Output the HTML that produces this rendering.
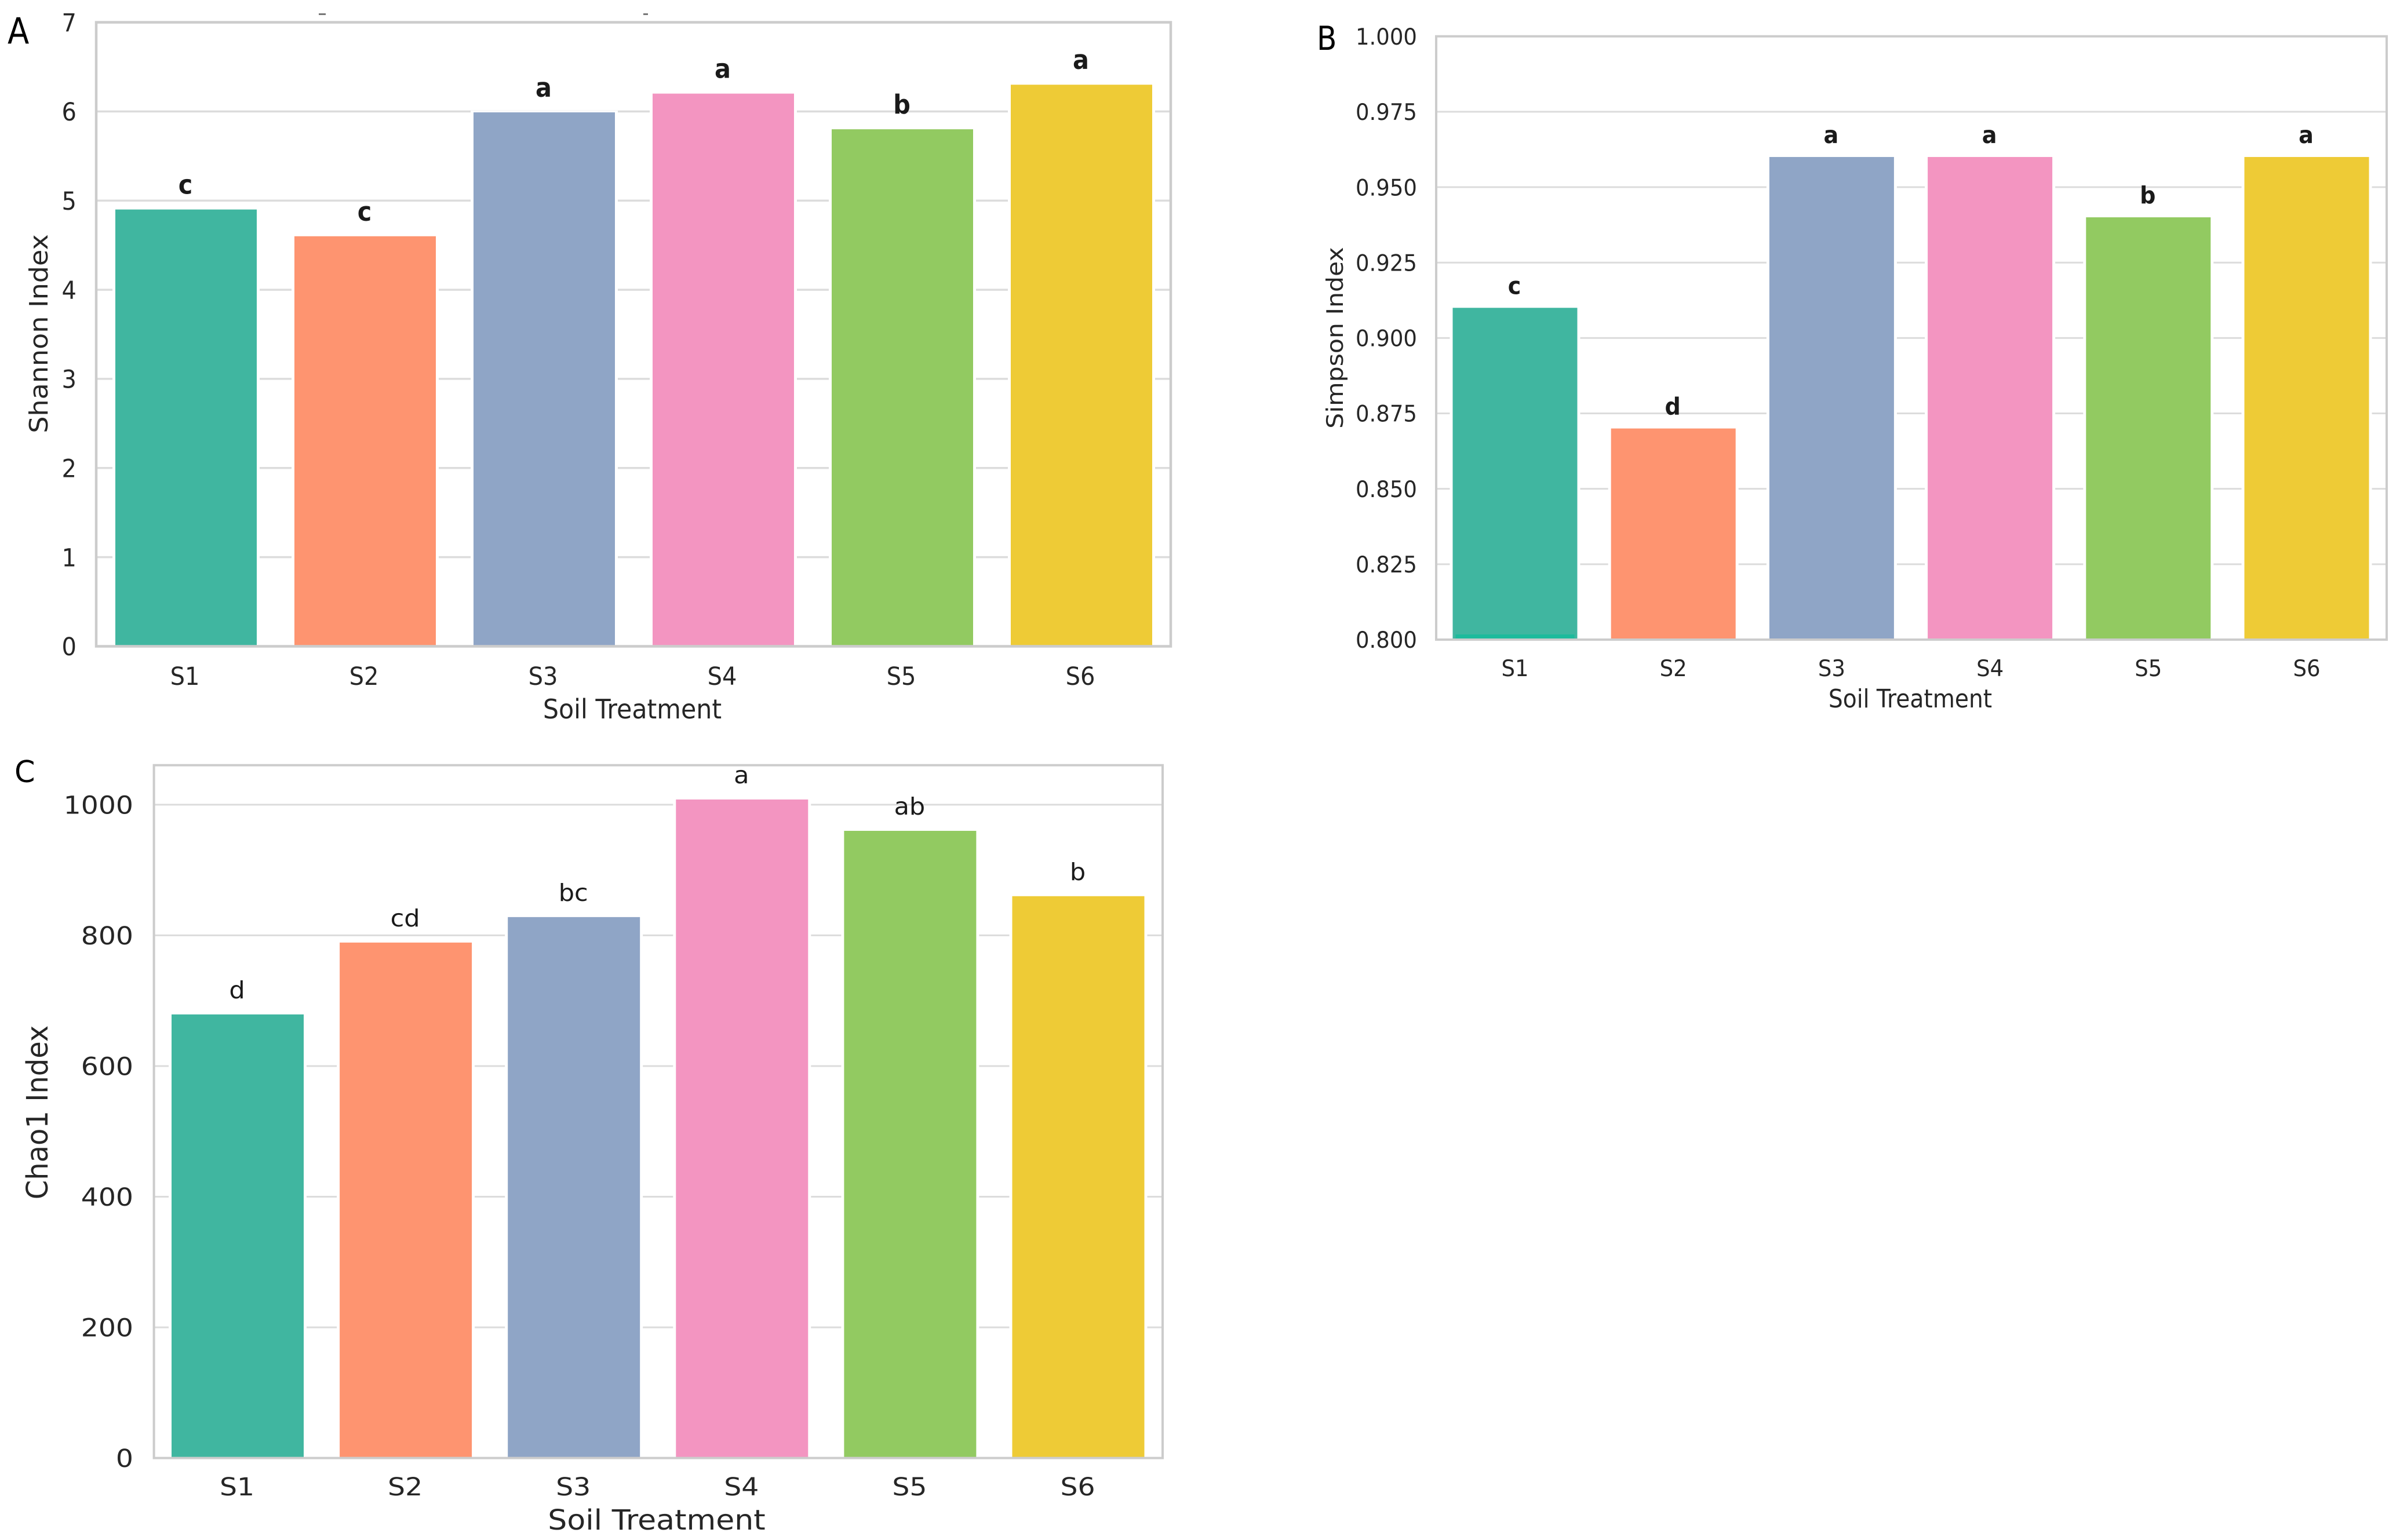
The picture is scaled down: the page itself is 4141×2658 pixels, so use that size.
<!DOCTYPE html>
<html lang="en">
<head>
<meta charset="utf-8">
<title>Soil treatment diversity indices</title>
<style>
html,body{margin:0;padding:0;background:#fff;}
svg{display:block;}
text{font-family:"DejaVu Sans","Liberation Sans",sans-serif;}
</style>
</head>
<body>
<svg id="figure" xmlns="http://www.w3.org/2000/svg" width="4141" height="2658" viewBox="0 0 4141 2658">
<rect x="0" y="0" width="4141" height="2658" fill="#ffffff"/>
<rect x="550" y="23" width="12" height="3" fill="#777777"/>
<rect x="1110" y="23" width="8" height="3" fill="#777777"/>
</svg>
<script>
const categories = ['S1', 'S2', 'S3', 'S4', 'S5', 'S6'];
const barColors = ['#40b6a0', '#fe9470', '#8fa5c6', '#f395c1', '#92ca61', '#eecb36'];

const shannonValues = [4.9, 4.6, 5.99, 6.2, 5.8, 6.3];
const shannonLetters = ['c', 'c', 'a', 'a', 'b', 'a'];
const shannonTicks = ['0', '1', '2', '3', '4', '5', '6', '7'];

const simpsonValues = [0.91, 0.87, 0.96, 0.96, 0.94, 0.96];
const simpsonLetters = ['c', 'd', 'a', 'a', 'b', 'a'];
const simpsonTicks = ['0.800', '0.825', '0.850', '0.875', '0.900', '0.925', '0.950', '0.975', '1.000'];

const chaoValues = [679, 789, 828, 1008, 960, 860];
const chaoLetters = ['d', 'cd', 'bc', 'a', 'ab', 'b'];
const chaoTicks = ['0', '200', '400', '600', '800', '1000'];

const svgNS = 'http://www.w3.org/2000/svg';
const root = document.getElementById('figure');

function mk(tag, attrs) {
  const el = document.createElementNS(svgNS, tag);
  for (const k in attrs) el.setAttribute(k, attrs[k]);
  return el;
}

function scaledText(parent, str, x, y, size, sx, anchor, weight, fill) {
  const t = mk('text', {
    transform: 'translate(' + x + ',' + y + ') scale(' + sx + ',1)',
    'font-size': size,
    'text-anchor': anchor,
    'font-weight': weight,
    fill: fill
  });
  t.textContent = str;
  parent.appendChild(t);
  return t;
}

function buildPanel(cfg) {
  const g = mk('g', {});
  
  
  root.appendChild(g);

  const yScale = v => cfg.bottom - (v - cfg.yMin) / (cfg.yMax - cfg.yMin) * (cfg.bottom - cfg.top);
  const xScale = i => cfg.firstCenter + i * cfg.step;

  cfg.ticks.forEach(label => {
    const v = parseFloat(label);
    const y = yScale(v);
    const grid = mk('line', { x1: cfg.left, x2: cfg.right, y1: y, y2: y, stroke: '#dcdcdc', 'stroke-width': cfg.gridWidth });
    
    
    g.appendChild(grid);

    const tl = scaledText(g, label, cfg.yTickRight, y + cfg.tickSize * 0.365, cfg.tickSize, cfg.tickSx, 'end', 'normal', '#262626');
    
    
  });

  categories.forEach((cat, i) => {
    const cx = xScale(i);
    const top = yScale(cfg.values[i]);
    const base = yScale(cfg.yMin);

    const halo = mk('rect', { x: cx - cfg.barWidth / 2 - 5, y: top - 3, width: cfg.barWidth + 10, height: base - top + 3, fill: '#ffffff' });
    
    
    g.appendChild(halo);

    const bar = mk('rect', { x: cx - cfg.barWidth / 2, y: top, width: cfg.barWidth, height: base - top - 2, fill: barColors[i] });
    
    
    g.appendChild(bar);

    const letter = scaledText(g, cfg.letters[i], cx - 1, top - cfg.letterGap, cfg.letterSize, cfg.letterSx, 'middle', cfg.letterWeight, '#1a1a1a');
    
    

    const xt = scaledText(g, cat, cx + cfg.xTickOffset, cfg.xTickBaseline, cfg.tickSize, cfg.tickSx, 'middle', 'normal', '#262626');
    
    
  });

  if (cfg.baseStrip) {
    const sx = xScale(0);
    const strip = mk('rect', { x: sx - cfg.barWidth / 2 + 5, y: yScale(cfg.yMin) - 9, width: cfg.barWidth - 10, height: 7, fill: '#1dbb9c' });
    
    
    g.appendChild(strip);
  }

  const frame = mk('rect', { x: cfg.left, y: cfg.top, width: cfg.right - cfg.left, height: cfg.bottom - cfg.top, fill: 'none', stroke: '#cccccc', 'stroke-width': cfg.spineWidth });
  
  
  g.appendChild(frame);

  const xl = scaledText(g, 'Soil Treatment', cfg.xLabelX, cfg.xLabelY, cfg.xLabelSize, cfg.xLabelSx, 'middle', 'normal', '#262626');
  
  

  const yl = mk('text', {
    transform: 'translate(' + cfg.yLabelX + ',' + cfg.yLabelY + ') rotate(-90) scale(1,' + cfg.yLabelSy + ')',
    'font-size': cfg.yLabelSize,
    'text-anchor': 'middle',
    fill: '#262626'
  });
  yl.textContent = cfg.yTitle;
  
  
  g.appendChild(yl);

  const tag = scaledText(g, cfg.tag, cfg.tagX, cfg.tagY, cfg.tagSize, cfg.tagSx, 'start', 'normal', '#000000');
  
  
}

buildPanel({
  key: 'shannon', tag: 'A', tagX: 13, tagY: 75, tagSize: 62, tagSx: 0.88,
  yTitle: 'Shannon Index', values: shannonValues, letters: shannonLetters, ticks: shannonTicks,
  yMin: 0, yMax: 7, left: 166, right: 2020, top: 38.5, bottom: 1115.5,
  firstCenter: 321, step: 309, barWidth: 244, gridWidth: 3.5, spineWidth: 4.5,
  tickSize: 43, tickSx: 0.93, yTickRight: 132, xTickOffset: -2, xTickBaseline: 1182,
  letterSize: 45, letterSx: 0.92, letterWeight: 'bold', letterGap: 27,
  xLabelX: 1091, xLabelY: 1240, xLabelSize: 46, xLabelSx: 0.93,
  yLabelX: 82, yLabelY: 576, yLabelSize: 46, yLabelSy: 0.95
});

buildPanel({
  key: 'simpson', tag: 'B', tagX: 2272, tagY: 86, tagSize: 57, tagSx: 0.88,
  yTitle: 'Simpson Index', values: simpsonValues, letters: simpsonLetters, ticks: simpsonTicks,
  yMin: 0.8, yMax: 1.0, left: 2478, right: 4118, top: 62.7, bottom: 1104,
  firstCenter: 2614, step: 273.2, barWidth: 215, gridWidth: 3, spineWidth: 4,
  tickSize: 39, tickSx: 0.95, yTickRight: 2445, xTickOffset: 0, xTickBaseline: 1167,
  letterSize: 41, letterSx: 0.93, letterWeight: 'bold', letterGap: 24,
  xLabelX: 3296, xLabelY: 1221, xLabelSize: 44, xLabelSx: 0.89,
  yLabelX: 2317, yLabelY: 583, yLabelSize: 42.6, yLabelSy: 0.92,
  baseStrip: true
});

buildPanel({
  key: 'chao', tag: 'C', tagX: 25, tagY: 1350, tagSize: 52, tagSx: 0.98,
  yTitle: 'Chao1 Index', values: chaoValues, letters: chaoLetters, ticks: chaoTicks,
  yMin: 0, yMax: 1060.5, left: 265.6, right: 2006, top: 1320.7, bottom: 2516.5,
  firstCenter: 410, step: 290.1, barWidth: 228, gridWidth: 3, spineWidth: 4,
  tickSize: 43, tickSx: 1.1, yTickRight: 230, xTickOffset: -1, xTickBaseline: 2581,
  letterSize: 41, letterSx: 1.05, letterWeight: 'normal', letterGap: 28,
  xLabelX: 1133, xLabelY: 2640, xLabelSize: 48, xLabelSx: 1.085,
  yLabelX: 82, yLabelY: 1920, yLabelSize: 48, yLabelSy: 1.06
});
</script>
</body>
</html>
